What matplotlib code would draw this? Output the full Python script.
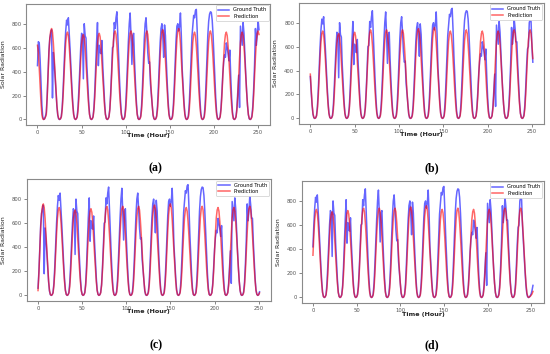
import matplotlib.pyplot as plt

# hourly values, one list per day (18 samples, trough to trough)
gt_days = [
    [0, 5, 30, 120, 260, 420, 560, 630, 650, 640, 600, 450, 650, 640, 500, 300, 120, 20],
    [0, 5, 25, 60, 200, 400, 580, 680, 720, 750, 180, 560, 470, 350, 220, 110, 35, 5],
    [0, 5, 25, 100, 240, 420, 600, 740, 830, 790, 850, 720, 580, 420, 270, 140, 45, 8],
    [0, 5, 25, 110, 260, 440, 600, 720, 700, 340, 800, 700, 680, 450, 290, 150, 45, 8],
    [0, 5, 25, 100, 250, 450, 650, 810, 450, 620, 560, 550, 660, 450, 290, 150, 45, 8],
    [0, 5, 25, 90, 230, 400, 600, 610, 810, 760, 850, 900, 720, 520, 330, 170, 55, 8],
    [0, 5, 30, 120, 280, 470, 650, 800, 890, 700, 460, 700, 720, 490, 310, 160, 50, 8],
    [0, 5, 30, 120, 280, 480, 670, 800, 850, 720, 560, 470, 480, 300, 210, 110, 35, 5],
    [0, 5, 30, 110, 270, 460, 640, 760, 800, 700, 520, 790, 700, 490, 310, 160, 50, 8],
    [0, 5, 30, 120, 280, 480, 660, 780, 800, 740, 780, 890, 700, 420, 280, 150, 50, 8],
    [0, 5, 30, 130, 300, 500, 690, 780, 870, 850, 910, 920, 740, 520, 340, 180, 60, 8],
    [0, 5, 30, 130, 300, 510, 700, 820, 880, 900, 895, 830, 700, 520, 340, 180, 60, 8],
    [0, 5, 25, 100, 230, 380, 480, 540, 520, 640, 600, 550, 490, 580, 360, 180, 60, 8],
    [0, 5, 25, 100, 230, 370, 100, 780, 700, 620, 810, 720, 540, 380, 240, 120, 40, 5],
    [0, 5, 30, 110, 260, 460, 760, 620, 700, 830, 750, 640, 640, 440, 280, 140, 45, 8],
    [0, 5, 30, 110, 260, 440, 580, 600, 800, 830, 810, 600, 470, 330, 210, 100, 30, 5],
    [0, 5, 15, 30, 60, 100, 260, 450, 650, 760, 740, 620, 480, 330, 200, 90, 25, 0],
]

pred_days = [
    [0, 5, 20, 80, 200, 360, 520, 640, 700, 720, 690, 620, 560, 430, 280, 140, 40, 5],
    [0, 5, 20, 40, 180, 380, 560, 680, 740, 760, 730, 640, 510, 370, 240, 120, 40, 8],
    [0, 5, 20, 80, 190, 350, 510, 640, 710, 730, 700, 610, 490, 350, 225, 115, 40, 8],
    [0, 5, 20, 75, 190, 345, 500, 630, 690, 710, 680, 600, 480, 345, 220, 115, 40, 8],
    [0, 5, 20, 80, 190, 350, 505, 635, 700, 720, 690, 605, 485, 350, 225, 115, 40, 8],
    [0, 5, 20, 80, 200, 360, 520, 650, 720, 740, 710, 620, 500, 360, 230, 120, 40, 8],
    [0, 5, 20, 80, 200, 360, 520, 650, 720, 740, 710, 620, 500, 360, 230, 120, 40, 8],
    [0, 5, 20, 80, 200, 360, 520, 650, 720, 740, 710, 620, 500, 360, 230, 120, 40, 8],
    [0, 5, 20, 80, 200, 365, 525, 660, 730, 750, 720, 630, 505, 365, 235, 120, 40, 8],
    [0, 5, 20, 85, 205, 370, 535, 670, 740, 760, 730, 635, 510, 370, 240, 120, 40, 8],
    [0, 5, 20, 80, 195, 355, 515, 645, 710, 730, 700, 615, 495, 355, 228, 118, 40, 8],
    [0, 5, 20, 80, 200, 360, 520, 650, 720, 740, 710, 620, 500, 360, 230, 120, 40, 8],
    [0, 5, 20, 80, 195, 355, 515, 645, 710, 730, 700, 615, 495, 355, 228, 118, 40, 8],
    [0, 5, 20, 80, 195, 355, 515, 645, 710, 730, 700, 615, 495, 355, 228, 118, 40, 8],
    [0, 5, 20, 80, 200, 360, 520, 650, 720, 740, 710, 620, 500, 360, 230, 120, 40, 8],
    [0, 5, 20, 80, 200, 360, 520, 650, 720, 740, 710, 620, 500, 360, 230, 120, 40, 8],
    [0, 5, 10, 20, 30, 50, 200, 420, 620, 720, 700, 610, 490, 350, 225, 115, 40, 5],
]

# each panel shows the same test period starting at a different hour
panel_labels = ["(a)", "(b)", "(c)", "(d)"]
panel_starts = [11, 31, 21, 41]
panel_lengths = [252, 252, 252, 253]
xticks = [0, 50, 100, 150, 200, 250]
yticks = [0, 200, 400, 600, 800]

# axes rectangles [left, bottom, width, height]
rects = [
    [0.048, 0.647, 0.443, 0.342],
    [0.544, 0.650, 0.445, 0.342],
    [0.049, 0.150, 0.443, 0.344],
    [0.549, 0.144, 0.440, 0.345],
]
label_pos = [(0.282, 0.525), (0.785, 0.525), (0.284, 0.025), (0.785, 0.025)]


def flatten(days):
    out = []
    for d in days:
        out.extend(d)
    return out


def main() -> int:
    gt = flatten(gt_days)
    pred = flatten(pred_days)

    fig = plt.figure(figsize=(5.5, 3.54), dpi=100)
    grey = "#8a8a8a"
    for i in range(4):
        ax = fig.add_axes(rects[i])
        s = panel_starts[i]
        n = panel_lengths[i]
        xs = list(range(n))
        ax.plot(xs, gt[s:s + n], color="blue", alpha=0.6, linewidth=1.1, label="Ground Truth")
        ax.plot(xs, pred[s:s + n], color="red", alpha=0.6, linewidth=1.1, label="Prediction")
        ax.set_xticks(xticks)
        ax.set_yticks(yticks)
        ax.tick_params(labelsize=3.8, colors="#555555", length=2, width=0.5, pad=1.5)
        for sp in ax.spines.values():
            sp.set_color(grey)
            sp.set_linewidth(0.8)
        ax.set_xlabel("Time (Hour)", fontsize=4.6, fontweight="bold", color="#222222")
        ax.xaxis.set_label_coords(0.5, -0.07)
        ax.set_ylabel("Solar Radiation", fontsize=4.5, color="#222222")
        ax.yaxis.set_label_coords(-0.085, 0.5)
        leg = ax.legend(loc="upper right", fontsize=3.7, handlelength=2.2,
                        borderpad=0.4, labelspacing=0.3, framealpha=1,
                        borderaxespad=0.3)
        leg.get_frame().set_linewidth(0.5)
        fig.text(label_pos[i][0], label_pos[i][1], panel_labels[i],
                 family="Liberation Serif", fontweight="bold", fontsize=8.5,
                 ha="center", va="center")

    fig.savefig("out.png", dpi=100)
    return 0


if __name__ == "__main__":
    raise SystemExit(main())
